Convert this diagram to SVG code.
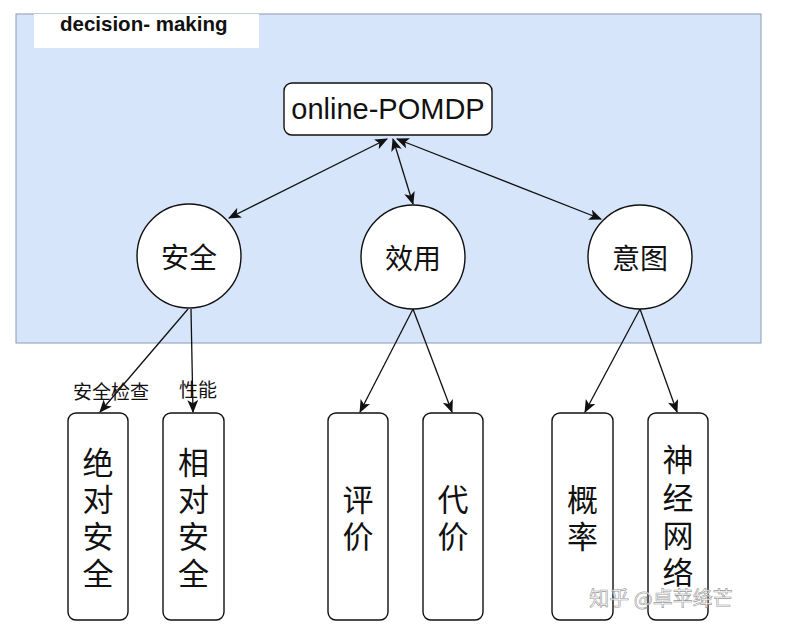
<svg xmlns="http://www.w3.org/2000/svg" width="796" height="632" viewBox="0 0 796 632">
<defs>
<style>
.t{font-family:"Liberation Sans","Noto Sans CJK SC",sans-serif;fill:#111}
.node{fill:#fff;stroke:#111;stroke-width:1.4}
.edge{stroke:#111;stroke-width:1.3;fill:none}
</style>
<marker id="ah" viewBox="0 0 12 10" refX="11" refY="5" markerWidth="13" markerHeight="11" markerUnits="userSpaceOnUse" orient="auto-start-reverse">
<path d="M0,0 L12,5 L0,10 L3,5 z" fill="#111"/>
</marker>
</defs>
<rect width="796" height="632" fill="#fff"/>
<g id="container">
<rect x="16" y="14" width="745" height="329" fill="#d6e5fa" stroke="#8a9ab3" stroke-width="1"/>
<rect x="34" y="14" width="225" height="34" fill="#fff"/>
<text class="t" x="60" y="31" font-size="20.5" font-weight="bold">decision- making</text>
</g>
<g id="connectors">
<line class="edge" x1="387" y1="139" x2="229" y2="218" marker-start="url(#ah)" marker-end="url(#ah)"/>
<line class="edge" x1="393" y1="139" x2="413" y2="204" marker-start="url(#ah)" marker-end="url(#ah)"/>
<line class="edge" x1="397" y1="139" x2="601" y2="219" marker-start="url(#ah)" marker-end="url(#ah)"/>
<line class="edge" x1="188" y1="309" x2="100" y2="412" marker-end="url(#ah)"/>
<line class="edge" x1="191" y1="309" x2="193" y2="412" marker-end="url(#ah)"/>
<line class="edge" x1="413" y1="309" x2="360" y2="412" marker-end="url(#ah)"/>
<line class="edge" x1="413" y1="309" x2="452" y2="412" marker-end="url(#ah)"/>
<line class="edge" x1="640" y1="309" x2="585" y2="412" marker-end="url(#ah)"/>
<line class="edge" x1="640" y1="309" x2="677" y2="412" marker-end="url(#ah)"/>
<text class="t" x="111" y="399" font-size="19" text-anchor="middle">安全检查</text>
<text class="t" x="198" y="397" font-size="19" text-anchor="middle">性能</text>
</g>
<g id="pomdp">
<rect class="node" x="284" y="83" width="208" height="52" rx="8"/>
<text class="t" x="388" y="119" font-size="29" text-anchor="middle">online-POMDP</text>
</g>
<g id="anquan">
<circle class="node" cx="189" cy="256" r="52"/>
<text class="t" x="189" y="268" font-size="28" text-anchor="middle">安全</text>
</g>
<g id="xiaoyong">
<circle class="node" cx="413" cy="257" r="52"/>
<text class="t" x="413" y="269" font-size="28" text-anchor="middle">效用</text>
</g>
<g id="yitu">
<circle class="node" cx="640" cy="257" r="52"/>
<text class="t" x="640" y="269" font-size="28" text-anchor="middle">意图</text>
</g>
<g id="juedui">
<rect class="node" x="68" y="413" width="60" height="207" rx="8"/>
<text class="t" font-size="31" text-anchor="middle"><tspan x="98" y="474">绝</tspan><tspan x="98" y="511">对</tspan><tspan x="98" y="548">安</tspan><tspan x="98" y="585">全</tspan></text>
</g>
<g id="xiangdui">
<rect class="node" x="163" y="413" width="61" height="207" rx="8"/>
<text class="t" font-size="31" text-anchor="middle"><tspan x="193.5" y="474">相</tspan><tspan x="193.5" y="511">对</tspan><tspan x="193.5" y="548">安</tspan><tspan x="193.5" y="585">全</tspan></text>
</g>
<g id="pingjia">
<rect class="node" x="328" y="413" width="60" height="207" rx="8"/>
<text class="t" font-size="31" text-anchor="middle"><tspan x="358" y="511">评</tspan><tspan x="358" y="548">价</tspan></text>
</g>
<g id="daijia">
<rect class="node" x="423" y="413" width="60" height="207" rx="8"/>
<text class="t" font-size="31" text-anchor="middle"><tspan x="453" y="511">代</tspan><tspan x="453" y="548">价</tspan></text>
</g>
<g id="gailv">
<rect class="node" x="552" y="413" width="61" height="207" rx="8"/>
<text class="t" font-size="31" text-anchor="middle"><tspan x="582.5" y="511">概</tspan><tspan x="582.5" y="548">率</tspan></text>
</g>
<g id="shenjing">
<rect class="node" x="648" y="413" width="60" height="207" rx="8"/>
<text class="t" font-size="31" text-anchor="middle"><tspan x="678" y="471">神</tspan><tspan x="678" y="509">经</tspan><tspan x="678" y="547">网</tspan><tspan x="678" y="584">络</tspan></text>
</g>
<text x="661" y="606" font-size="20" text-anchor="middle" fill="#ffffff" fill-opacity="0.75" stroke="#9a9a9a" stroke-width="0.6" style="font-family:'Noto Sans CJK SC',sans-serif">知乎 @卓苹绛芒</text>
</svg>
